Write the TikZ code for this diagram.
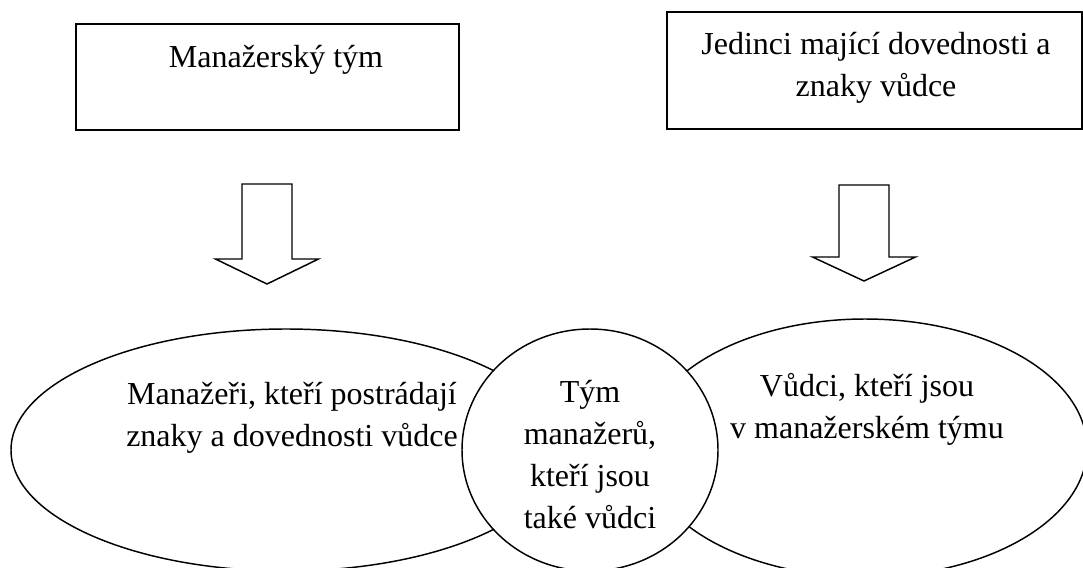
\documentclass[tikz,border=0pt]{standalone}
\usepackage{fontspec}
\setmainfont{Liberation Serif}
\usetikzlibrary{shapes.geometric}

\tikzset{
  topbox/.style={draw, line width=1.5pt, rectangle},
  txt/.style={font=\fontsize{24}{31.5}\selectfont, align=center, inner sep=0pt},
  oval/.style={draw, line width=1.1pt, ellipse, inner sep=0pt},
  blockarrow/.style={draw, line width=1.1pt, line join=miter}
}

\begin{document}
\begin{tikzpicture}[x=0.75pt, y=-0.75pt]
  \useasboundingbox (0,0) rectangle (1083,568);
  % Top boxes
  \node[topbox, minimum width=287.25pt, minimum height=79.5pt] (mgrbox) at (267.5,77) {};
  \node[txt] (mgrtext) at (276,59.5) {Manažerský tým};
  \node[topbox, minimum width=311.25pt, minimum height=87.75pt] (leadbox) at (874.5,70.5) {};
  \node[txt] (leadtext) at (876,67.5) {Jedinci mající dovednosti a\\znaky vůdce};
  % Block arrows
  \foreach \cx/\ty/\hy/\by in {267/184/259/284, 864/185/257/281} {
    \draw[blockarrow]
      ({\cx-25},\ty) -- ({\cx+25},\ty) -- ({\cx+25},\hy) -- ({\cx+51.5},\hy) --
      (\cx,\by) -- ({\cx-51.5},\hy) -- ({\cx-25},\hy) -- cycle;
  }
  % Ovals
  \node[oval, minimum width=412.5pt, minimum height=181.5pt] (mgroval) at (286,450) {};
  \node[oval, minimum width=333pt, minimum height=193.5pt] (leadoval) at (865,448) {};
  \node[oval, fill=white, minimum width=192pt, minimum height=181.5pt] (both) at (590,450) {};
  % Oval texts
  \node[txt] (mgrovaltext) at (292,418) {Manažeři, kteří postrádají\\znaky a dovednosti vůdce};
  \node[txt] (leadovaltext) at (867,409) {Vůdci, kteří jsou\\v manažerském týmu};
  \node[txt] (bothtext) at (590,455) {Tým\\manažerů,\\kteří jsou\\také vůdci};
\end{tikzpicture}
\end{document}
